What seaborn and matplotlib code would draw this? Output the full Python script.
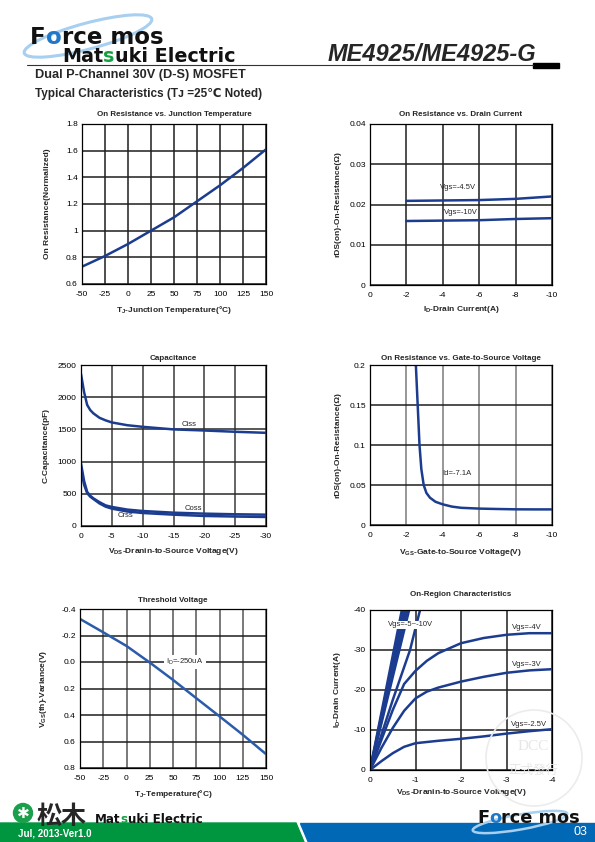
import matplotlib
matplotlib.use("Agg")
import matplotlib.pyplot as plt
import seaborn as sns
from matplotlib.patches import Polygon, Rectangle, Ellipse, Circle

tj = [-50, -25, 0, 25, 50, 75, 100, 125, 150]
rdson_norm = [0.73, 0.81, 0.90, 1.00, 1.10, 1.22, 1.34, 1.47, 1.61]

id_drain = [-2, -4, -6, -8, -10]
rds_vgs45 = [0.0209, 0.0210, 0.0211, 0.0214, 0.0220]
rds_vgs10 = [0.0159, 0.0160, 0.0161, 0.0164, 0.0166]

vds_cap = [0, -0.5, -1, -1.5, -2, -3, -4, -5, -7.5, -10, -15, -20, -25, -30]
ciss = [2360, 2080, 1880, 1800, 1750, 1680, 1640, 1608, 1565, 1540, 1500, 1483, 1463, 1447]
coss = [970, 700, 530, 470, 430, 370, 320, 296, 255, 233, 207, 192, 182, 176]
crss = [880, 640, 510, 455, 420, 350, 300, 270, 225, 202, 176, 156, 147, 140]

vgs_sweep = [-2.5, -2.56, -2.62, -2.72, -2.82, -2.95, -3.1, -3.3, -3.6, -4, -4.5, -5, -6, -7, -8, -9, -10]
rds_vs_vgs = [0.21, 0.18, 0.15, 0.10, 0.07, 0.05, 0.040, 0.034, 0.029, 0.0258, 0.023,
              0.0215, 0.0205, 0.0200, 0.0196, 0.0195, 0.0195]

vth_var = [-0.325, -0.224, -0.121, 0.004, 0.135, 0.273, 0.41, 0.549, 0.695]

vds_on = [0, -0.25, -0.5, -0.75, -1, -1.25, -1.5, -2, -2.5, -3, -3.5, -4]
id_vgs4 = [0, -7.5, -15, -21.5, -24.8, -27.3, -29.2, -31.7, -33.0, -33.8, -34.2, -34.2]
id_vgs3 = [0, -5.5, -10.5, -14.8, -17.9, -19.6, -20.6, -22.1, -23.3, -24.3, -24.9, -25.2]
id_vgs25 = [0, -2.2, -4.2, -5.8, -6.7, -7.0, -7.3, -7.8, -8.4, -9.1, -9.7, -10.2]
vds_vgs5 = [0, -0.5, -0.88, -1.1]
id_vgs5 = [0, -17.5, -30, -40]
# feixe Vgs=-6..-10: retas da origem ate Id=-40A
feixe_vds_fim = [-0.70, -0.74, -0.78, -0.82, -0.86]
feixe_id = [0, -40]

# rotulos dos eixos
tj_ticks = [-50, -25, 0, 25, 50, 75, 100, 125, 150]
tj_labels = ["-50", "-25", "0", "25", "50", "75", "100", "125", "150"]
r1_ticks = [0.6, 0.8, 1.0, 1.2, 1.4, 1.6, 1.8]
r1_labels = ["0.6", "0.8", "1", "1.2", "1.4", "1.6", "1.8"]
id_ticks = [0, -2, -4, -6, -8, -10]
id_labels = ["0", "-2", "-4", "-6", "-8", "-10"]
r2_ticks = [0, 0.01, 0.02, 0.03, 0.04]
r2_labels = ["0", "0.01", "0.02", "0.03", "0.04"]
cap_x_ticks = [0, -5, -10, -15, -20, -25, -30]
cap_x_labels = ["0", "-5", "-10", "-15", "-20", "-25", "-30"]
cap_y_ticks = [0, 500, 1000, 1500, 2000, 2500]
cap_y_labels = ["0", "500", "1000", "1500", "2000", "2500"]
r4_ticks = [0, 0.05, 0.1, 0.15, 0.2]
r4_labels = ["0", "0.05", "0.1", "0.15", "0.2"]
vth_ticks = [-0.4, -0.2, 0.0, 0.2, 0.4, 0.6, 0.8]
vth_labels = ["-0.4", "-0.2", "0.0", "0.2", "0.4", "0.6", "0.8"]
on_x_ticks = [0, -1, -2, -3, -4]
on_x_labels = ["0", "-1", "-2", "-3", "-4"]
on_y_ticks = [0, -10, -20, -30, -40]
on_y_labels = ["0", "-10", "-20", "-30", "-40"]

W, H = 595, 842
AZUL = '#1c3d8f'
AZUL2 = '#2b5cab'
LOGO = 'DejaVu Sans'

sns.set_theme(style="white")
plt.rcParams['font.family'] = ['Liberation Sans', 'DejaVu Sans']
plt.rcParams['axes.unicode_minus'] = False
plt.rcParams['mathtext.fontset'] = 'custom'
plt.rcParams['mathtext.rm'] = 'Liberation Sans'
plt.rcParams['mathtext.it'] = 'Liberation Sans:italic'
plt.rcParams['mathtext.bf'] = 'Liberation Sans:bold'

fig = plt.figure(figsize=(W / 100, H / 100), dpi=100)


# cria eixo a partir de coordenadas em pixels
def eixo(l, r, t, b):
    return fig.add_axes([l / W, 1 - b / H, (r - l) / W, (b - t) / H])


def estilo(ax, titulo, pad, xlab, ylab, xlim, ylim, xt, xtl, yt, ytl, xlc, ylc,
           cor_v='#1e1e1e', cor_h='#1e1e1e'):
    ax.set_xlim(xlim)
    ax.set_ylim(ylim)
    ax.set_xticks(xt, xtl)
    ax.set_yticks(yt, ytl)
    ax.tick_params(length=0, labelsize=6, colors='black')
    ax.tick_params(axis='x', pad=5)
    ax.tick_params(axis='y', pad=3)
    ax.grid(axis='x', color=cor_v, lw=1.1)
    ax.grid(axis='y', color=cor_h, lw=1.1)
    ax.set_axisbelow(True)
    for s in ax.spines.values():
        s.set_visible(True)
        s.set_color('black')
        s.set_linewidth(0.9)
    ax.set_title(titulo, fontsize=5.8, fontweight='bold', pad=pad)
    ax.set_xlabel(xlab, fontsize=6, fontweight='bold')
    ax.set_ylabel(ylab, fontsize=6, fontweight='bold')
    ax.xaxis.set_label_coords(0.5, xlc)
    ax.yaxis.set_label_coords(ylc, 0.5)


# 1 - resistencia vs temperatura
ax1 = eixo(82, 266, 124, 284)
sns.lineplot(x=tj, y=rdson_norm, ax=ax1, color=AZUL, linewidth=1.8)
estilo(ax1, "On Resistance vs. Junction Temperature", 5.8,
       r"T$_\mathregular{J}$-Junction Temperature(°C)", "On Resistance(Normalized)",
       (-50, 150), (0.6, 1.8), tj_ticks, tj_labels, r1_ticks, r1_labels, -0.128, -0.171)

# 2 - resistencia vs corrente
ax2 = eixo(370, 552, 124, 285)
sns.lineplot(x=id_drain, y=rds_vgs45, ax=ax2, color=AZUL, linewidth=1.8)
sns.lineplot(x=id_drain, y=rds_vgs10, ax=ax2, color=AZUL, linewidth=1.8)
ax2.text(-4.85, 0.0241, "Vgs=-4.5V", fontsize=5.5, ha='center', va='center')
ax2.text(-5.0, 0.0181, "Vgs=-10V", fontsize=5.5, ha='center', va='center')
estilo(ax2, "On Resistance vs. Drain Current", 5.8,
       r"I$_\mathregular{D}$-Drain Current(A)", "rDS(on)-On-Resistance(Ω)",
       (0, -10), (0, 0.04), id_ticks, id_labels, r2_ticks, r2_labels, -0.118, -0.157)

# 3 - capacitancia
ax3 = eixo(81, 266, 365, 526)
sns.lineplot(x=vds_cap, y=ciss, ax=ax3, color=AZUL, linewidth=1.8)
sns.lineplot(x=vds_cap, y=coss, ax=ax3, color=AZUL, linewidth=1.8)
sns.lineplot(x=vds_cap, y=crss, ax=ax3, color=AZUL, linewidth=1.8)
ax3.text(-17.6, 1577, "Ciss", fontsize=5.5, ha='center', va='center')
ax3.text(-18.3, 270, "Coss", fontsize=5.5, ha='center', va='center')
ax3.text(-7.2, 166, "Crss", fontsize=5.5, ha='center', va='center')
estilo(ax3, "Capacitance", 3.6,
       r"V$_\mathregular{DS}$-Dranin-to-Source Voltage(V)", "C-Capacitance(pF)",
       (0, -30), (0, 2500), cap_x_ticks, cap_x_labels, cap_y_ticks, cap_y_labels,
       -0.127, -0.168, cor_v='#3a3a3a', cor_h='#2a2a2a')

# 4 - resistencia vs Vgs
ax4 = eixo(370, 552, 365, 525)
sns.lineplot(x=vgs_sweep, y=rds_vs_vgs, ax=ax4, color=AZUL, linewidth=1.8, sort=False)
ax4.text(-4.75, 0.064, "Id=-7.1A", fontsize=5.5, ha='center', va='center')
estilo(ax4, "On Resistance vs. Gate-to-Source Voltage", 3.6,
       r"V$_\mathregular{GS}$-Gate-to-Source Voltage(V)", "rDS(on)-On-Resistance(Ω)",
       (0, -10), (0, 0.2), id_ticks, id_labels, r4_ticks, r4_labels,
       -0.140, -0.157, cor_v='#7a7a7a', cor_h='#1e1e1e')

# 5 - tensao de limiar
ax5 = eixo(80, 266, 609, 768)
sns.lineplot(x=tj, y=vth_var, ax=ax5, color=AZUL2, linewidth=1.8)
ax5.text(63, 0.0, r"I$_\mathregular{D}$=-250uA", fontsize=5.5, ha='center', va='center',
         bbox=dict(facecolor='white', edgecolor='none', pad=1.5))
estilo(ax5, "Threshold Voltage", 5.0,
       r"T$_\mathregular{J}$-Temperature(°C)", r"V$_\mathregular{GS}$(th)-Variance(V)",
       (-50, 150), (0.8, -0.4), tj_ticks, tj_labels, vth_ticks, vth_labels,
       -0.126, -0.169, cor_v='#555555', cor_h='#1e1e1e')

# 6 - regiao de conducao
ax6 = eixo(370, 552, 610, 770)
for xe in feixe_vds_fim:
    sns.lineplot(x=[0, xe], y=feixe_id, ax=ax6, color=AZUL, linewidth=1.8)
sns.lineplot(x=vds_vgs5, y=id_vgs5, ax=ax6, color=AZUL, linewidth=1.8)
sns.lineplot(x=vds_on, y=id_vgs4, ax=ax6, color=AZUL, linewidth=1.8)
sns.lineplot(x=vds_on, y=id_vgs3, ax=ax6, color=AZUL, linewidth=1.8)
sns.lineplot(x=vds_on, y=id_vgs25, ax=ax6, color=AZUL, linewidth=1.8)
ax6.text(-0.88, -36.3, "Vgs=-5~-10V", fontsize=5.5, ha='center', va='center',
         bbox=dict(facecolor='white', edgecolor='none', pad=0.5))
ax6.text(-3.44, -35.7, "Vgs=-4V", fontsize=5.5, ha='center', va='center')
ax6.text(-3.44, -26.3, "Vgs=-3V", fontsize=5.5, ha='center', va='center')
ax6.text(-3.5, -11.4, "Vgs=-2.5V", fontsize=5.5, ha='center', va='center')
estilo(ax6, "On-Region Characteristics", 10,
       r"V$_\mathregular{DS}$-Dranin-to-Source Voltage(V)", r"I$_\mathregular{D}$-Drain Current(A)",
       (0, -4), (0, -40), on_x_ticks, on_x_labels, on_y_ticks, on_y_labels,
       -0.106, -0.151)

# camada em pixels para cabecalho, rodape e marca d'agua
bg = fig.add_axes([0, 0, 1, 1], zorder=10)
bg.set_xlim(0, W)
bg.set_ylim(H, 0)
bg.axis('off')
bg.patch.set_visible(False)

# cabecalho
bg.plot([27, 533], [65, 65], color='#333333', lw=0.8)
bg.add_patch(Ellipse((88, 36), 132, 26, angle=-15, fill=False,
                     edgecolor='#a7cff0', lw=2.2))
bg.text(30, 43.5, "F", fontsize=16.5, fontweight='bold', color='#111111', family=LOGO)
bg.text(45.7, 43.5, "o", fontsize=16.5, fontweight='bold', color='#1f78c8', family=LOGO)
bg.text(61.5, 43.5, "rce mos", fontsize=16.5, fontweight='bold', color='#111111', family=LOGO)
bg.text(62, 62.5, "Mat", fontsize=13.8, fontweight='bold', color='#111111', family=LOGO)
bg.text(103.2, 62.5, "s", fontsize=13.8, fontweight='bold', color='#12a040', family=LOGO)
bg.text(114.6, 62.5, "uki Electric", fontsize=13.8, fontweight='bold', color='#111111', family=LOGO)
bg.text(328, 61, "ME4925/ME4925-G", fontsize=17, fontweight='bold', style='italic')
bg.add_patch(Rectangle((533, 63), 26, 5, color='black'))
bg.text(35, 78, "Dual P-Channel 30V (D-S) MOSFET", fontsize=9.2, fontweight='bold')
bg.text(35, 97, "Typical Characteristics (Tᴊ =25℃ Noted)", fontsize=8.5, fontweight='bold')

# rodape
bg.add_patch(Polygon([(0, 823), (296, 823), (304, 842), (0, 842)], color='#00953f'))
bg.add_patch(Polygon([(300, 823), (595, 823), (595, 842), (308, 842)], color='#0068b5'))
bg.text(18, 837, "Jul, 2013-Ver1.0", fontsize=7, fontweight='bold', color='white')
bg.text(573, 835, "03", fontsize=9, color='white')
bg.add_patch(Circle((23, 813), 9.5, color='#1aa04a'))
bg.text(23, 813, "✱", fontsize=11, color='white', ha='center', va='center',
        family='DejaVu Sans')
bg.text(37, 824, "松木", fontsize=18, fontweight='bold', family='Noto Sans CJK JP')
bg.text(95, 823, "Mat", fontsize=8.6, fontweight='bold', color='#111111', family=LOGO)
bg.text(120.8, 823, "s", fontsize=8.6, fontweight='bold', color='#12a040', family=LOGO)
bg.text(127.9, 823, "uki Electric", fontsize=8.6, fontweight='bold', color='#111111', family=LOGO)
bg.add_patch(Ellipse((520, 822), 96, 15, angle=-10, fill=False,
                     edgecolor='#a7cff0', lw=1.8))
bg.text(477, 823, "F", fontsize=12.8, fontweight='bold', color='#111111', family=LOGO)
bg.text(489.1, 823, "o", fontsize=12.8, fontweight='bold', color='#1f78c8', family=LOGO)
bg.text(501.3, 823, "rce mos", fontsize=12.8, fontweight='bold', color='#111111', family=LOGO)

# marca d'agua
bg.add_patch(Circle((534, 758), 48, fill=False, edgecolor='#ececec', lw=1.2))
bg.text(533, 746, "DCC", fontsize=11, color='#e6e6e6', ha='center', va='center',
        family='Liberation Serif')
bg.text(533, 770, "正式發行", fontsize=9, color='#e6e6e6', ha='center', va='center',
        family='Noto Sans CJK TC')

fig.savefig("out.png", dpi=100)
